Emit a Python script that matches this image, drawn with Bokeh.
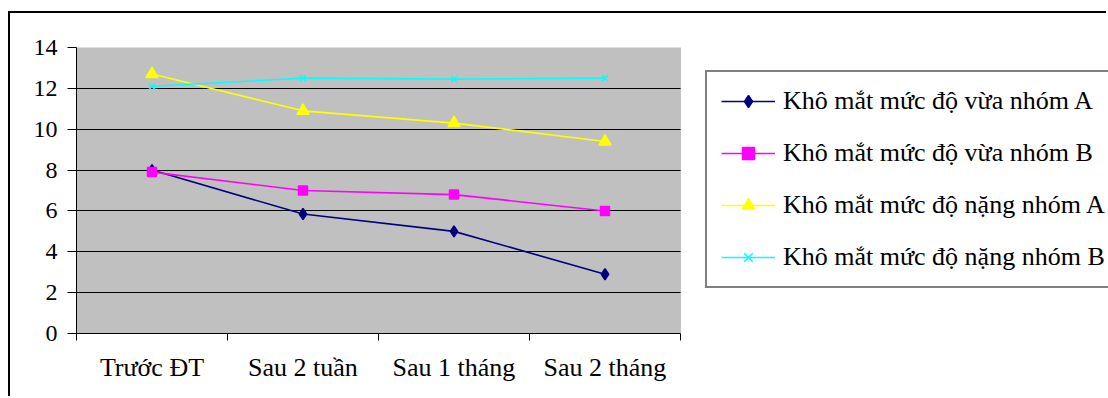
from bokeh.plotting import figure
from bokeh.models import (Range1d, FixedTicker, LinearAxis, Legend, LegendItem, BoxAnnotation)
from bokeh.embed import file_html
from bokeh.resources import INLINE

categories = ["Trước ĐT", "Sau 2 tuần", "Sau 1 tháng", "Sau 2 tháng"]
vua_A = [8.0, 5.85, 5.0, 2.9]
vua_B = [7.9, 7.0, 6.8, 6.0]
nang_A = [12.7, 10.9, 10.3, 9.4]
nang_B = [12.1, 12.5, 12.45, 12.5]
series_names = ["Khô mắt mức độ vừa nhóm A", "Khô mắt mức độ vừa nhóm B",
                "Khô mắt mức độ nặng nhóm A", "Khô mắt mức độ nặng nhóm B"]
y_ticks = [0, 2, 4, 6, 8, 10, 12, 14]
y_max = 14

FONT = "Liberation Serif"

n = len(categories)
xs = [i + 0.5 for i in range(n)]          # category centres on a 0..n axis
bounds = list(range(n + 1))               # category boundaries

# layout (pixels)
FIG_W, FIG_H = 1098, 385
LEFT, TOP, BOTTOM = 66, 34, 65
PLOT_W = 604                              # width of the grey plot area
FRAME_W = FIG_W - LEFT
x_end = n * FRAME_W / PLOT_W

p = figure(width=FIG_W, height=FIG_H, output_backend="svg", toolbar_location=None,
           x_range=Range1d(0, x_end), y_range=Range1d(0, y_max),
           x_axis_location=None, y_axis_location=None,
           min_border_left=LEFT, min_border_right=0, min_border_top=TOP, min_border_bottom=BOTTOM)
p.margin = (11, 0, 0, 8)
p.styles = {"border-top": "2px solid black", "border-left": "2px solid black",
            "border-right": "0px none", "border-bottom": "0px none"}
p.background_fill_color = "white"
p.border_fill_color = "white"
p.outline_line_color = None

plot_area = BoxAnnotation(left=0, right=n, bottom=0, top=y_max,
                          fill_color="#C0C0C0", fill_alpha=1,
                          line_color="#808080", line_width=1, level="image")
p.add_layout(plot_area)

# y axis
yax = LinearAxis(ticker=FixedTicker(ticks=y_ticks, minor_ticks=[]))
yax.axis_line_color = "black"
yax.axis_line_width = 1
yax.major_tick_out = 9
yax.major_tick_in = 0
yax.major_tick_line_color = "black"
yax.minor_tick_line_color = None
yax.major_label_standoff = 10
yax.major_label_text_font = FONT
yax.major_label_text_font_size = "24px"
yax.major_label_text_color = "black"
p.add_layout(yax, "left")

# x axis: labels at centres, tick marks at boundaries
xax = LinearAxis(ticker=FixedTicker(ticks=xs, minor_ticks=bounds), bounds=(0, n))
xax.axis_line_color = "black"
xax.major_tick_out = 0
xax.major_tick_in = 0
xax.major_tick_line_color = None
xax.minor_tick_out = 7
xax.minor_tick_in = 0
xax.minor_tick_line_color = "black"
xax.major_label_overrides = {x: c for x, c in zip(xs, categories)}
xax.major_label_standoff = 12
xax.major_label_text_font = FONT
xax.major_label_text_font_size = "26px"
xax.major_label_text_color = "black"
p.add_layout(xax, "below")

p.ygrid.ticker = FixedTicker(ticks=y_ticks)
p.ygrid.grid_line_color = "black"
p.ygrid.grid_line_width = 1
p.ygrid.cross_bounds = (0, n)
p.xgrid.grid_line_color = None

items = []
specs = [
    (vua_A, "#000080", "diamond", 11),
    (vua_B, "#FF00FF", "square", 9),
    (nang_A, "#FFFF00", "triangle", 12),
    (nang_B, "#00FFFF", "x", 8),
]
for name, (vals, col, mk, sz) in zip(series_names, specs):
    lr = p.line(xs, vals, line_color=col, line_width=1.6)
    sr = p.scatter(xs, vals, marker=mk, size=sz, fill_color=col, line_color=col, line_width=1.5)
    items.append(LegendItem(label=name, renderers=[lr, sr]))

legend = Legend(items=items, location=(629, 45))
legend.label_text_font = FONT
legend.label_text_font_size = "26px"
legend.label_text_color = "black"
legend.glyph_width = 54
legend.glyph_height = 30
legend.label_height = 30
legend.label_width = 314
legend.label_standoff = 8
legend.spacing = 22
legend.padding = 14
legend.margin = 0
legend.border_line_color = "black"
legend.border_line_width = 2
legend.background_fill_color = "white"
legend.background_fill_alpha = 1
p.add_layout(legend, "center")

open("out.html", "w").write(file_html(p, INLINE))
